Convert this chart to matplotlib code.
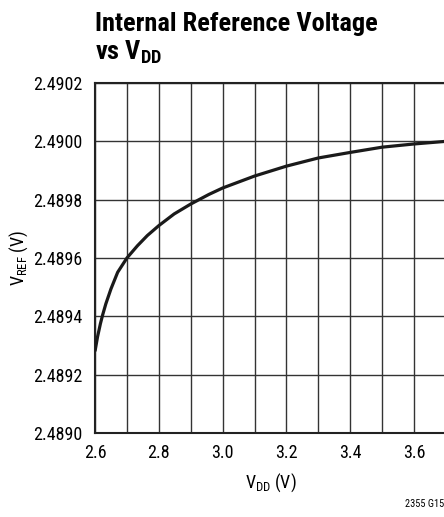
import numpy as np
import matplotlib
matplotlib.use('Agg')
import matplotlib.pyplot as plt

# curve
vdd = [2.600, 2.608, 2.617, 2.624, 2.634, 2.650, 2.671, 2.700, 2.733, 2.764,
       2.800, 2.848, 2.900, 2.957, 3.000, 3.100, 3.200, 3.300, 3.400, 3.500,
       3.600, 3.700]
vref = [2.48928, 2.48933, 2.489375, 2.489405, 2.489443, 2.489494, 2.489551,
        2.48960, 2.489642, 2.489677, 2.489711, 2.489751, 2.489785, 2.489818,
        2.48984, 2.489881, 2.489915, 2.489943, 2.489962, 2.48998, 2.489991,
        2.49000]

x_ticks = [2.6, 2.8, 3.0, 3.2, 3.4, 3.6]
y_ticks = [2.4890, 2.4892, 2.4894, 2.4896, 2.4898, 2.4900, 2.4902]

narrow = ['Roboto Condensed', 'Archivo Narrow', 'DejaVu Sans']
plt.rcParams['font.family'] = narrow
plt.rcParams['mathtext.fontset'] = 'custom'
plt.rcParams['mathtext.rm'] = 'Roboto Condensed'
plt.rcParams['mathtext.bf'] = 'Roboto Condensed:bold'

fig = plt.figure(figsize=(4.44, 5.17), dpi=100)
W, H = 444, 517
left, right, top, bottom = 95, 446, 83, 433
ax = fig.add_axes([left / W, 1 - bottom / H, (right - left) / W, (bottom - top) / H])

ax.plot(vdd, vref, color='#1a1a1a', lw=2.3, solid_capstyle='butt',
        solid_joinstyle='round', zorder=3)

ax.set_xlim(2.6, 3.7)
ax.set_ylim(2.4890, 2.4902)
ax.set_xticks(x_ticks)
ax.set_xticks(np.arange(2.7, 3.71, 0.2), minor=True)
ax.set_xticklabels([f'{t:.1f}' for t in x_ticks])
ax.set_yticks(y_ticks)
ax.set_yticklabels([f'{t:.4f}' for t in y_ticks])
ax.grid(True, which='both', color='#333333', lw=1.0)
ax.tick_params(which='both', length=0, labelsize=13)
ax.tick_params(axis='y', pad=9)
ax.tick_params(axis='x', pad=8)
for s in ax.spines.values():
    s.set_linewidth(1.5)
    s.set_color('#222222')

ax.set_xlabel(r'V$_{\mathregular{DD}}$ (V)', fontsize=13, labelpad=7)
ax.set_ylabel(r'V$_{\mathregular{REF}}$ (V)', fontsize=13, labelpad=2)

fig.text(left / W, 1 - 31 / H, 'Internal Reference Voltage', fontsize=19,
         fontweight='bold', va='baseline', ha='left')
fig.text(left / W, 1 - 60 / H, r'vs V$_{\mathbf{DD}}$', fontsize=19,
         fontweight='bold', va='baseline', ha='left')
fig.text(1.0, 1 - 507 / H, '2355 G15', fontsize=7.5, va='baseline', ha='right')

fig.savefig('out.png', dpi=100)
